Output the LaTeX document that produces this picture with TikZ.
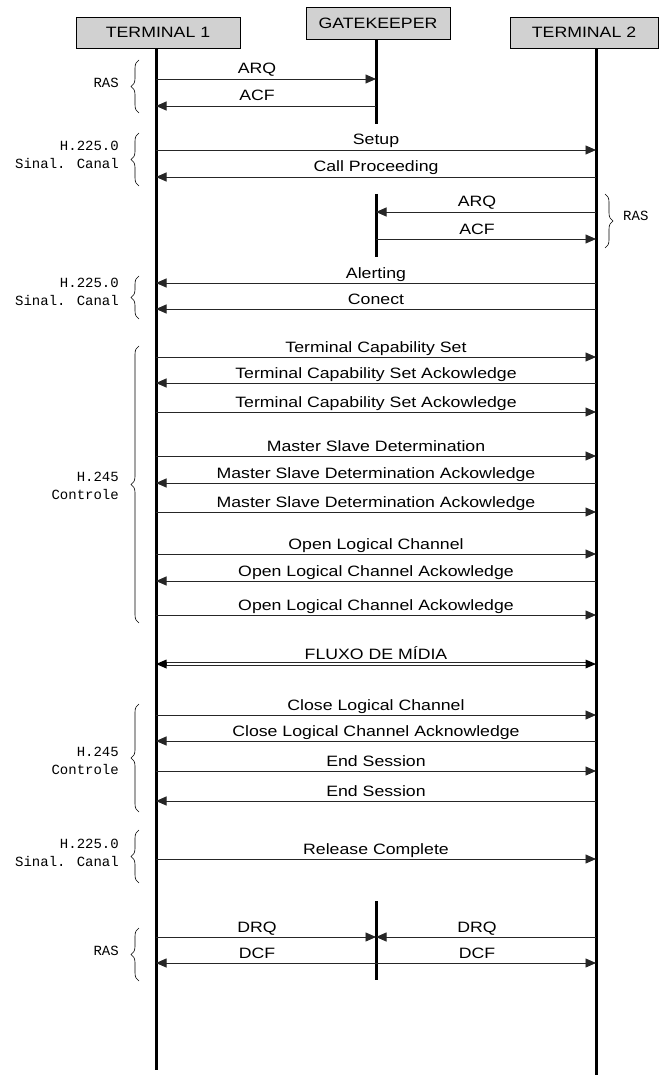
\documentclass[tikz,border=0pt]{standalone}
\usepackage{fontspec}
\setmainfont{Liberation Sans}
\newfontfamily\msgfont[FakeStretch=1.18]{Liberation Sans}
\newfontfamily\notefont{Liberation Mono}
\usetikzlibrary{arrows.meta,decorations.pathreplacing,calc}

\definecolor{boxgray}{gray}{0.82}
\definecolor{msgline}{gray}{0.15}

\begin{document}
\begin{tikzpicture}[x=1pt,y=-1pt,
  party/.style={draw=black, line width=0.8pt, fill=boxgray, inner sep=0pt,
    font=\msgfont\fontsize{15}{18}\selectfont},
  life/.style={line width=3pt},
  msg/.style={draw=msgline, line width=0.9pt, -{Triangle[length=10.5pt,width=9pt]}},
  lbl/.style={anchor=base, text=black, inner sep=0pt, yshift=5pt,
    font=\msgfont\fontsize{15}{18}\selectfont},
  group/.style={decorate, decoration={brace, amplitude=8pt}, line width=0.6pt},
  note/.style={anchor=base east, align=right, inner sep=0pt,
    font=\notefont\fontsize{14}{18}\selectfont}]

\useasboundingbox (0,0) rectangle (660,1075);

% participants
\node[party, minimum width=164pt, minimum height=31pt] (t1) at (158,32.5) {TERMINAL 1};
\node[party, minimum width=144pt, minimum height=32pt] (gk) at (378,23) {GATEKEEPER};
\node[party, minimum width=148pt, minimum height=31pt] (t2) at (584,32.5) {TERMINAL 2};

% lifelines
\coordinate (t1end) at (156,1070);
\coordinate (t2end) at (596,1075);
\draw[life] (t1.south -| t1end) -- (t1end);
\draw[life] (t2.south -| t2end) -- (t2end);
\coordinate (gk1) at (376,124);
\draw[life] (gk.south -| gk1) -- (gk1);
\coordinate (gk2a) at (376,194);
\coordinate (gk2b) at (376,257);
\draw[life] (gk2a) -- (gk2b);
\coordinate (gk3a) at (376,901);
\coordinate (gk3b) at (376,980);
\draw[life] (gk3a) -- (gk3b);

% messages: y / from / to / label / label shift
\foreach \y/\a/\b/\t/\dx [count=\i] in {
  79/156/376/ARQ/-9,
  106/376/156/ACF/-9,
  150/156/596/Setup/0,
  177/596/156/Call Proceeding/0,
  212/596/376/ARQ/-9,
  239/376/596/ACF/-9,
  283/596/156/Alerting/0,
  309/596/156/Conect/0,
  357/156/596/Terminal Capability Set/0,
  383/596/156/Terminal Capability Set Ackowledge/0,
  412/156/596/Terminal Capability Set Ackowledge/0,
  456/156/596/Master Slave Determination/0,
  483/596/156/Master Slave Determination Ackowledge/0,
  512/156/596/Master Slave Determination Ackowledge/0,
  554/156/596/Open Logical Channel/0,
  581/596/156/Open Logical Channel Ackowledge/0,
  615/156/596/Open Logical Channel Ackowledge/0,
  715/156/596/Close Logical Channel/0,
  741/596/156/Close Logical Channel Acknowledge/0,
  771/156/596/End Session/0,
  801/596/156/End Session/0,
  859/156/596/Release Complete/0,
  937/156/376/DRQ/-9,
  937/596/376/DRQ/-9,
  963/376/156/DCF/-9,
  963/376/596/DCF/-9}
{
  \coordinate (s\i) at (\a,\y);
  \coordinate (r\i) at (\b,\y);
  \draw[msg] (s\i) -- (r\i) node[lbl, pos=0.5, xshift=\dx pt] {\t};
}

% media stream: double line with heads at both ends
\coordinate (fa) at (156,664);
\coordinate (fb) at (596,664);
\draw[msgline, line width=3.6pt, shorten <=9pt, shorten >=9pt] (fa) -- (fb);
\draw[white, line width=1.8pt,
  {Triangle[length=10.5pt,width=9pt,color=black,line width=0pt]}-{Triangle[length=10.5pt,width=9pt,color=black,line width=0pt]}]
  (fa) -- (fb);
\node[lbl] (flx) at ($(fa)!0.5!(fb)$) {FLUXO DE MÍDIA};

% protocol groups (label position = baseline of the last line)
\foreach \top/\bot/\ly/\txt [count=\j] in {
  60/113/88/{RAS},
  133/186/168.3/{H.225.0\\Sinal. Canal},
  276/319/305.7/{H.225.0\\Sinal. Canal},
  346/623/499/{H.245\\Controle},
  704/812/774/{H.245\\Controle},
  830/883/866/{H.225.0\\Sinal. Canal},
  928/981/955/{RAS}}
{
  \coordinate (ga\j) at (139,\bot);
  \coordinate (gb\j) at (139,\top);
  \draw[group] (ga\j) -- (gb\j);
  \node[note] (gn\j) at (119,\ly) {\txt};
}

\coordinate (ra) at (605,194);
\coordinate (rb) at (605,248);
\draw[group] (ra) -- (rb);
\node[note, anchor=base west] (rn) at (623,221) {RAS};

\end{tikzpicture}
\end{document}
